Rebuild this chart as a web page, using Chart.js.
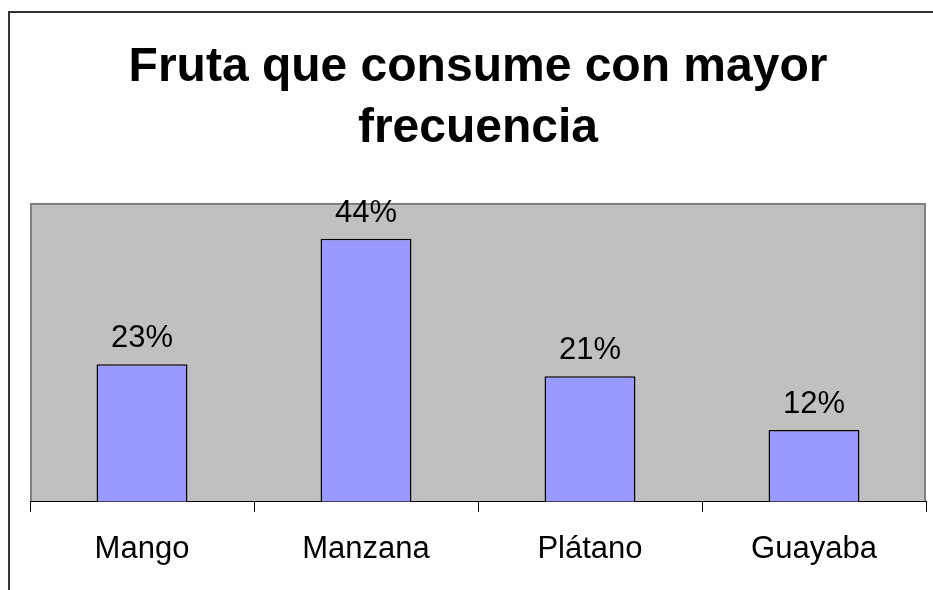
<!DOCTYPE html>
<html>
<head>
<meta charset="utf-8">
<script src="https://cdn.jsdelivr.net/npm/chart.js@4"></script>
<style>
    html, body { margin: 0; padding: 0; background: #fff; }
    #wrap { position: relative; width: 933px; height: 590px; overflow: hidden; }
    #frame { position: absolute; left: 8px; top: 11px; width: 1000px; height: 1000px;
             border-left: 2px solid #333; border-top: 2px solid #333; }
    canvas { position: absolute; left: 0; top: 0; }
</style>
</head>
<body>
<div id="wrap">
    <div id="frame"></div>
    <canvas id="fruitChart" width="933" height="590"></canvas>
</div>
<script>
const fruits = ['Mango', 'Manzana', 'Plátano', 'Guayaba'];
const percents = [23, 44, 21, 12];
const chartTitle = ['Fruta que consume con mayor', 'frecuencia'];

const plotBackground = {
    id: 'plotBackground',
    beforeDraw(chart) {
        const { ctx, chartArea: a } = chart;
        ctx.save();
        ctx.fillStyle = '#c0c0c0';
        ctx.fillRect(a.left, a.top, a.right - a.left, a.bottom - a.top);
        ctx.strokeStyle = '#808080';
        ctx.lineWidth = 2;
        ctx.beginPath();
        ctx.moveTo(a.left + 1, a.bottom);
        ctx.lineTo(a.left + 1, a.top + 1);
        ctx.lineTo(a.right - 1, a.top + 1);
        ctx.lineTo(a.right - 1, a.bottom);
        ctx.stroke();
        ctx.restore();
    }
};

const barLabels = {
    id: 'barLabels',
    afterDatasetsDraw(chart) {
        const ctx = chart.ctx;
        const meta = chart.getDatasetMeta(0);
        ctx.save();
        ctx.font = '31px "Liberation Sans", Arial, sans-serif';
        ctx.fillStyle = '#000';
        ctx.textAlign = 'center';
        ctx.textBaseline = 'alphabetic';
        meta.data.forEach((bar, i) => {
            ctx.fillText(percents[i] + '%', bar.x, bar.y - 17);
        });
        ctx.restore();
    }
};

new Chart(document.getElementById('fruitChart'), {
    type: 'bar',
    data: {
        labels: fruits,
        datasets: [{
            data: percents,
            backgroundColor: '#9999ff',
            borderColor: '#000',
            borderWidth: 1.5,
            categoryPercentage: 1,
            barPercentage: 0.406
        }]
    },
    options: {
        responsive: false,
        animation: false,
        layout: { padding: { left: 30, right: 7, top: 0, bottom: 3 } },
        plugins: {
            legend: { display: false },
            tooltip: { enabled: false },
            title: {
                display: true,
                text: chartTitle,
                color: '#000',
                font: { family: '"Liberation Sans", Arial, sans-serif', size: 48, weight: 'bold', lineHeight: 1.28 },
                padding: { top: 37, bottom: 43 }
            }
        },
        scales: {
            x: {
                offset: true,
                grid: { offset: true, drawOnChartArea: false, tickLength: 10, color: '#000' },
                border: { color: '#000', width: 1 },
                ticks: {
                    color: '#000',
                    padding: 19,
                    font: { family: '"Liberation Sans", Arial, sans-serif', size: 31 }
                }
            },
            y: { display: false, min: 0, max: 50 }
        }
    },
    plugins: [plotBackground, barLabels]
});
</script>
</body>
</html>
